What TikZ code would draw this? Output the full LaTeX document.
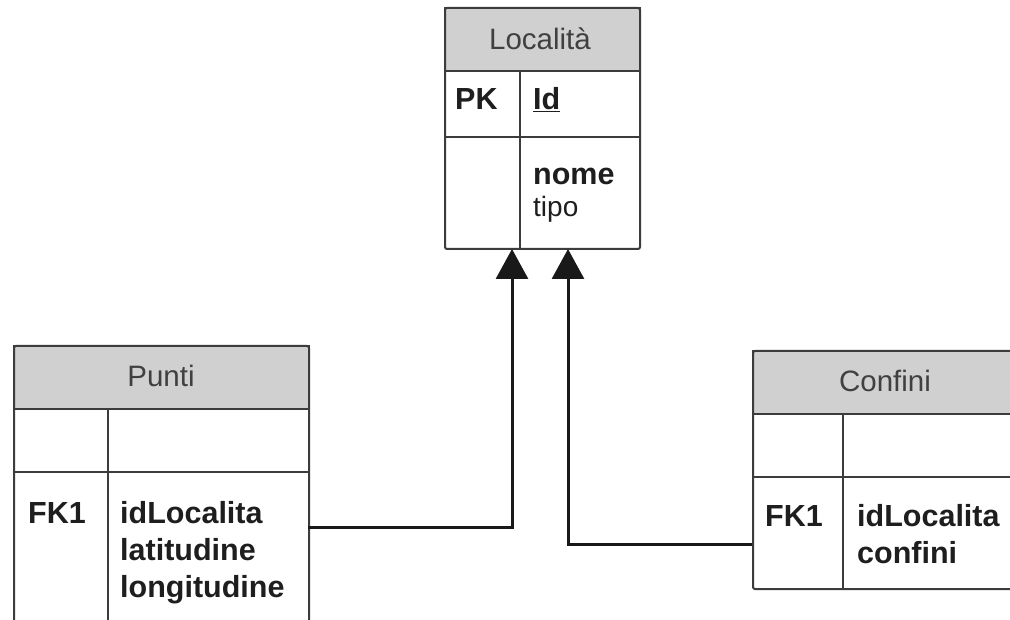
\documentclass[tikz,border=0pt]{standalone}
\usepackage{fontspec}
\setmainfont{Liberation Sans}
\usetikzlibrary{arrows.meta}
\definecolor{hdr}{HTML}{D0D0D0}
\definecolor{edge}{HTML}{3C3C3C}
\definecolor{txt}{HTML}{1E1E1E}
\begin{document}
\begin{tikzpicture}[x=1pt,y=-1pt,
  tbl/.style={draw=edge,line width=2pt,rounded corners=2pt,anchor=north west,inner sep=0pt},
  hdrbox/.style={fill=hdr,draw=edge,line width=2pt,anchor=north west,inner sep=0pt},
  sep/.style={draw=edge,line width=2pt},
  lbl/.style={font=\fontsize{30.5}{37}\selectfont,text=txt,anchor=base west,inner sep=0pt},
  ttl/.style={font=\fontsize{29.5}{37}\selectfont,text=txt!85,inner sep=0pt},
  fk/.style={draw=black!90,line width=3pt,-{Triangle[width=32pt,length=30pt]}}]
\useasboundingbox (0,0) rectangle (1010,620);
\clip (0,0) rectangle (1010,620);
\fill[white] (0,0) rectangle (1010,620);
% Localita
\node[hdrbox,minimum width=195pt,minimum height=63pt] (lochdr) at (444,7) {};
\node[tbl,minimum width=195pt,minimum height=241pt] (loc) at (444,7) {};
\draw[sep] (444,137) -- (639,137);
\draw[sep] (520,70) -- (520,248);
\node[ttl] (locT) at (540,39) {Località};
\node[lbl] (locPK) at (455,110) {\textbf{PK}};
\node[lbl] (locId) at (533,110) {\textbf{\underline{Id}}};
\node[lbl] (locNome) at (533,185) {\textbf{nome}};
\node[lbl,font=\fontsize{28}{37}\selectfont] (locTipo) at (533,217) {tipo};
% Punti
\node[hdrbox,minimum width=295pt,minimum height=63pt] (punhdr) at (13,345) {};
\node[tbl,minimum width=295pt,minimum height=300pt] (pun) at (13,345) {};
\draw[sep] (13,472) -- (308,472);
\draw[sep] (108,408) -- (108,645);
\node[ttl] (punT) at (161,376) {Punti};
\node[lbl] (punFK) at (28,523) {\textbf{FK1}};
\node[lbl] (punA) at (120,523) {\textbf{idLocalita}};
\node[lbl] (punB) at (120,560) {\textbf{latitudine}};
\node[lbl] (punC) at (120,597) {\textbf{longitudine}};
% Confini
\node[hdrbox,minimum width=270pt,minimum height=63pt] (conhdr) at (752,350) {};
\node[tbl,minimum width=270pt,minimum height=238pt] (con) at (752,350) {};
\draw[sep] (752,477) -- (1022,477);
\draw[sep] (843,413) -- (843,588);
\node[ttl] (conT) at (885,381) {Confini};
\node[lbl] (conFK) at (765,526) {\textbf{FK1}};
\node[lbl] (conA) at (857,526) {\textbf{idLocalita}};
\node[lbl] (conB) at (857,563) {\textbf{confini}};
% connectors
\coordinate (punOut) at (308,527);
\coordinate (locInA) at (512,249);
\coordinate (conOut) at (752,544);
\coordinate (locInB) at (568,249);
\draw[fk] (punOut) -| (locInA);
\draw[fk] (conOut) -| (locInB);
\end{tikzpicture}
\end{document}
